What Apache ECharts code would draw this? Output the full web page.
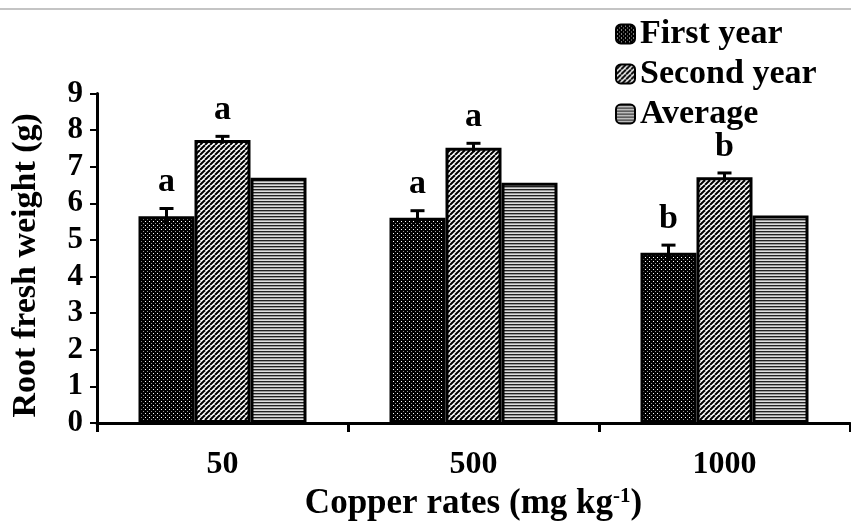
<!DOCTYPE html>
<html><head><meta charset="utf-8">
<script src="https://cdn.jsdelivr.net/npm/echarts@6/dist/echarts.min.js"></script>
<style>html,body{margin:0;padding:0;background:#fff}#c{width:851px;height:526px}</style>
</head><body><div id="c"></div>
<script>
const categories = ['50', '500', '1000'];
const seriesNames = ['First year', 'Second year', 'Average'];
const firstYear = [5.65, 5.61, 4.65];
const secondYear = [7.73, 7.52, 6.71];
const average = [6.70, 6.56, 5.67];
const firstYearErr = [0.21, 0.19, 0.21];
const secondYearErr = [0.10, 0.12, 0.12];
const firstYearLetters = ['a', 'a', 'b'];
const secondYearLetters = ['a', 'a', 'b'];

const FONT = '"Liberation Serif", "Times New Roman", serif';
const BAR_W = 56;

function makeCanvas(w, h, draw) {
  const c = document.createElement('canvas');
  c.width = w; c.height = h;
  draw(c.getContext('2d'));
  return c;
}
const dotPattern = makeCanvas(4, 4, g => {
  g.fillStyle = '#000'; g.fillRect(0, 0, 4, 4);
  g.fillStyle = '#fff'; g.fillRect(1, 1, 1, 1);
  g.fillStyle = '#999'; g.fillRect(3, 3, 1, 1);
});
const hatchPattern = makeCanvas(5, 5, g => {
  g.fillStyle = '#fff'; g.fillRect(0, 0, 5, 5);
  g.strokeStyle = '#000'; g.lineWidth = 2;
  for (let k = -5; k <= 10; k += 5) {
    g.beginPath(); g.moveTo(k, 5); g.lineTo(k + 5, 0); g.stroke();
  }
});
const stripePattern = makeCanvas(1, 3, g => {
  g.fillStyle = '#222'; g.fillRect(0, 0, 1, 1);
  g.fillStyle = '#999'; g.fillRect(0, 1, 1, 1);
  g.fillStyle = '#dedede'; g.fillRect(0, 2, 1, 1);
});

function errSeries(values, errs, letters, slot) {
  return {
    type: 'custom',
    z: 10,
    encode: { x: 0, y: 1 },
    data: values.map((v, i) => [i, v, errs[i]]),
    renderItem: function (params, api) {
      const i = api.value(0), v = api.value(1), e = api.value(2);
      const top = api.coord([i, v + e]);
      const bot = api.coord([i, v - e]);
      const x = top[0] + slot * BAR_W;
      return {
        type: 'group',
        children: [
          { type: 'line', shape: { x1: x, y1: top[1], x2: x, y2: bot[1] }, style: { stroke: '#000', lineWidth: 3 } },
          { type: 'line', shape: { x1: x - 7, y1: top[1], x2: x + 7, y2: top[1] }, style: { stroke: '#000', lineWidth: 3 } },
          { type: 'text', x: x, y: top[1] - 9, style: { text: letters[params.dataIndex], fill: '#000', font: 'bold 34px ' + FONT, align: 'center', verticalAlign: 'bottom' } }
        ]
      };
    }
  };
}

const chart = echarts.init(document.getElementById('c'), null, { renderer: 'canvas' });
chart.setOption({
  backgroundColor: '#fff',
  animation: false,
  graphic: [{ type: 'line', shape: { x1: 0, y1: 9, x2: 851, y2: 9 }, style: { stroke: '#c4c4c4', lineWidth: 2 } }],
  legend: {
    data: seriesNames,
    orient: 'vertical',
    left: 610, top: 12,
    itemWidth: 19, itemHeight: 19, itemGap: 6,
    icon: 'roundRect',
    textStyle: { fontFamily: FONT, fontWeight: 'bold', fontSize: 34, color: '#000' }
  },
  grid: { left: 97, right: 1, top: 93.5, bottom: 102 },
  xAxis: {
    type: 'category',
    data: categories,
    name: 'Copper rates (mg kg{sup|-1})',
    nameLocation: 'middle',
    nameGap: 62,
    nameTextStyle: {
      fontFamily: FONT, fontWeight: 'bold', fontSize: 35, color: '#000',
      rich: { sup: { fontFamily: FONT, fontWeight: 'bold', fontSize: 21, color: '#000', verticalAlign: 'top', lineHeight: 35 } }
    },
    axisLine: { lineStyle: { color: '#000', width: 3 } },
    axisTick: { show: true, length: 9, lineStyle: { color: '#000', width: 3 } },
    axisLabel: { margin: 26, fontFamily: FONT, fontWeight: 'bold', fontSize: 32, color: '#000' }
  },
  yAxis: {
    type: 'value',
    min: 0, max: 9, interval: 1,
    name: 'Root fresh weight (g)',
    nameLocation: 'middle',
    nameGap: 54,
    nameTextStyle: { fontFamily: FONT, fontWeight: 'bold', fontSize: 34, color: '#000', padding: [0, 14, 0, 0] },
    axisLine: { show: true, lineStyle: { color: '#000', width: 3 } },
    axisTick: { show: true, length: 7, lineStyle: { color: '#000', width: 2 } },
    splitLine: { show: false },
    axisLabel: { margin: 14, fontFamily: FONT, fontWeight: 'bold', fontSize: 31, color: '#000' }
  },
  series: [
    { name: seriesNames[0], type: 'bar', data: firstYear, barWidth: BAR_W, barGap: '0%',
      itemStyle: { color: { image: dotPattern, repeat: 'repeat' }, borderColor: '#000', borderWidth: 3 } },
    { name: seriesNames[1], type: 'bar', data: secondYear, barWidth: BAR_W, barGap: '0%',
      itemStyle: { color: { image: hatchPattern, repeat: 'repeat' }, borderColor: '#000', borderWidth: 3 } },
    { name: seriesNames[2], type: 'bar', data: average, barWidth: BAR_W, barGap: '0%',
      itemStyle: { color: { image: stripePattern, repeat: 'repeat' }, borderColor: '#000', borderWidth: 3 } },
    errSeries(firstYear, firstYearErr, firstYearLetters, -1),
    errSeries(secondYear, secondYearErr, secondYearLetters, 0)
  ]
});
</script>
</body></html>
